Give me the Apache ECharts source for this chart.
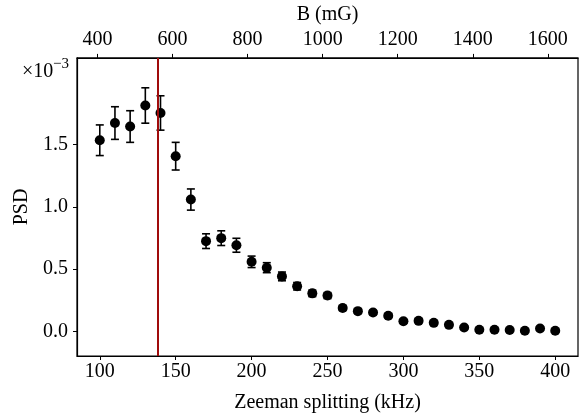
<!DOCTYPE html>
<html>
<head>
<meta charset="utf-8">
<script src="https://cdn.jsdelivr.net/npm/echarts@6/dist/echarts.min.js"></script>
<style>
html,body{margin:0;padding:0;background:#fff;}
#chart{width:580px;height:418px;}
</style>
</head>
<body>
<div id="chart"></div>
<script>
const freqKHz = [100,110,120,130,140,150,160,170,180,190,200,210,220,230,240,250,260,270,280,290,300,310,320,330,340,350,360,370,380,390,400];
const psd = [1.534,1.672,1.644,1.813,1.753,1.406,1.058,0.724,0.748,0.691,0.558,0.511,0.441,0.362,0.305,0.287,0.188,0.162,0.151,0.125,0.081,0.084,0.068,0.052,0.031,0.013,0.013,0.011,0.005,0.023,0.005];
const psdErr = [0.123,0.131,0.127,0.142,0.138,0.111,0.085,0.059,0.059,0.056,0.046,0.040,0.035,0.030,0.026,0.024,0.020,0.018,0.017,0.016,0.014,0.014,0.013,0.012,0.011,0.010,0.010,0.010,0.009,0.010,0.009];
const xTicks = [100,150,200,250,300,350,400];
const bTicks = [400,600,800,1000,1200,1400,1600];
const yTicks = [0.0,0.5,1.0,1.5];
const redLineKHz = 138;

const xMin = 85, xMax = 415;
const yMin = -0.198, yMax = 2.195;
const bOf = f => f * 4.045 + 1.6;

const FONT = 'Liberation Serif';
const chart = echarts.init(document.getElementById('chart'), null, {renderer:'canvas'});

const pts = freqKHz.map((f,i)=>[f, psd[i]]);
const errs = freqKHz.map((f,i)=>[f, psd[i]-psdErr[i], psd[i]+psdErr[i]]);

chart.setOption({
  animation:false,
  backgroundColor:'#fff',
  grid:{left:77, right:2, top:54, bottom:58, show:true, borderColor:'#000', borderWidth:1.2, backgroundColor:'transparent'},
  xAxis:[{
    type:'value', position:'bottom', min:xMin, max:xMax,
    name:'Zeeman splitting (kHz)', nameLocation:'middle', nameGap:37,
    nameTextStyle:{fontFamily:FONT, fontSize:20, color:'#000'},
    axisLine:{show:true, onZero:false, lineStyle:{color:'#000', width:1.2}},
    axisTick:{show:true, length:4, customValues:xTicks, lineStyle:{color:'#000', width:1}},
    axisLabel:{customValues:xTicks, margin:6, fontFamily:FONT, fontSize:20, color:'#000', formatter:v=>String(v)},
    splitLine:{show:false}
  },{
    type:'value', position:'top', min:bOf(xMin), max:bOf(xMax),
    name:'B (mG)', nameLocation:'middle', nameGap:32,
    nameTextStyle:{fontFamily:FONT, fontSize:20, color:'#000'},
    axisLine:{show:true, onZero:false, lineStyle:{color:'#000', width:1.2}},
    axisTick:{show:true, length:4, customValues:bTicks, lineStyle:{color:'#000', width:1}},
    axisLabel:{customValues:bTicks, margin:8, fontFamily:FONT, fontSize:20, color:'#000', formatter:v=>String(Math.round(v))},
    splitLine:{show:false}
  }],
  yAxis:[{
    type:'value', min:yMin, max:yMax,
    name:'PSD', nameLocation:'middle', nameGap:42, nameRotate:90,
    nameTextStyle:{fontFamily:FONT, fontSize:20, color:'#000'},
    axisLine:{show:true, onZero:false, lineStyle:{color:'#000', width:1.2}},
    axisTick:{show:true, length:4, customValues:yTicks, lineStyle:{color:'#000', width:1}},
    axisLabel:{customValues:yTicks, margin:9, fontFamily:FONT, fontSize:20, color:'#000', formatter:v=>v.toFixed(1)},
    splitLine:{show:false}
  }],
  graphic:[
    {type:'text', left:22, top:62, style:{text:'×10', font:'20px "Liberation Serif"', fill:'#000'}},
    {type:'text', left:53, top:57, style:{text:'−3', font:'15px "Liberation Serif"', fill:'#000'}}
  ],
  series:[
    {
      type:'custom', xAxisIndex:0, yAxisIndex:0, data:errs, z:3,
      renderItem:(params, api)=>{
        const x = api.value(0);
        const lo = api.coord([x, api.value(1)]);
        const hi = api.coord([x, api.value(2)]);
        const c = 4;
        const st = {stroke:'#000', lineWidth:1.6};
        return {type:'group', children:[
          {type:'line', shape:{x1:lo[0], y1:lo[1], x2:hi[0], y2:hi[1]}, style:st},
          {type:'line', shape:{x1:lo[0]-c, y1:lo[1], x2:lo[0]+c, y2:lo[1]}, style:st},
          {type:'line', shape:{x1:hi[0]-c, y1:hi[1], x2:hi[0]+c, y2:hi[1]}, style:st}
        ]};
      }
    },
    {
      type:'scatter', xAxisIndex:0, yAxisIndex:0, data:pts, symbol:'circle', symbolSize:10, z:4,
      itemStyle:{color:'#000', opacity:1},
      markLine:{
        silent:true, symbol:['none','none'], label:{show:false},
        lineStyle:{color:'#a00c0c', width:2, type:'solid'},
        data:[{xAxis:redLineKHz}]
      }
    }
  ]
});
</script>
</body>
</html>
